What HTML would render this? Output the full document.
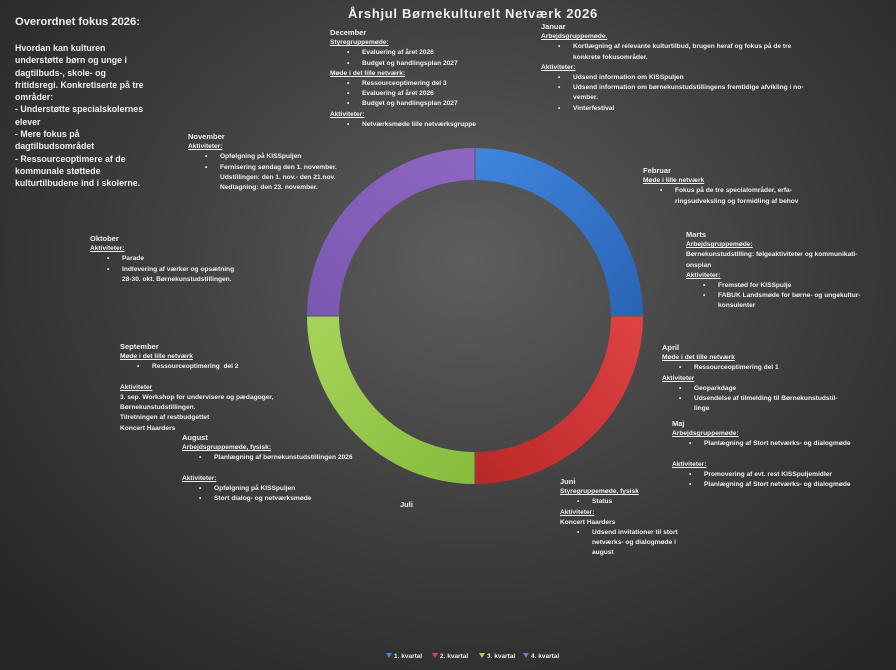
<!DOCTYPE html>
<html><head><meta charset="utf-8"><style>
body{margin:0;width:896px;height:670px;overflow:hidden;background:radial-gradient(ellipse 620px 520px at 470px 260px,#5e5e5e 0%,#424242 45%,#262626 100%);font-family:"Liberation Sans",sans-serif;color:#fff;position:relative}
.b{position:absolute;font-size:6.6px;line-height:10.2px;font-weight:bold;white-space:nowrap;color:#f0f0f0}
.b u{text-decoration:underline}
.h{font-size:7.5px}
.li{padding-left:32px;position:relative}
.li:before{content:"•";position:absolute;left:17px}
</style></head><body>
<svg width="896" height="670" style="position:absolute;left:0;top:0">
<defs>
<linearGradient id="gb" x1="0" y1="0" x2="1" y2="1"><stop offset="0" stop-color="#3f86de"/><stop offset="1" stop-color="#2a63b4"/></linearGradient>
<linearGradient id="gr" x1="1" y1="0" x2="0" y2="1"><stop offset="0" stop-color="#e04343"/><stop offset="1" stop-color="#b82828"/></linearGradient>
<linearGradient id="gg" x1="0" y1="0" x2="1" y2="1"><stop offset="0" stop-color="#a6d45a"/><stop offset="1" stop-color="#86bb3c"/></linearGradient>
<linearGradient id="gp" x1="0" y1="1" x2="1" y2="0"><stop offset="0" stop-color="#7a58b2"/><stop offset="1" stop-color="#8d67c2"/></linearGradient>
</defs>
<g transform="translate(475,316)">
<path d="M0,-168 A168,168 0 0 1 168,0 L136,0 A136,136 0 0 0 0,-136Z" fill="url(#gb)"/>
<path d="M168,0 A168,168 0 0 1 0,168 L0,136 A136,136 0 0 0 136,0Z" fill="url(#gr)"/>
<path d="M0,168 A168,168 0 0 1 -168,0 L-136,0 A136,136 0 0 0 0,136Z" fill="url(#gg)"/>
<path d="M-168,0 A168,168 0 0 1 0,-168 L0,-136 A136,136 0 0 0 -136,0Z" fill="url(#gp)"/>
<g stroke="#555" stroke-width="1"><line x1="0" y1="-168" x2="0" y2="-136"/><line x1="136" y1="0" x2="168" y2="0"/><line x1="0" y1="136" x2="0" y2="168"/><line x1="-168" y1="0" x2="-136" y2="0"/></g>
</g>
<g font-family="Liberation Sans" font-size="6.5" fill="#eee" font-weight="bold">
<polygon points="386,653 392,653 389,658" fill="#3f86de"/><text x="394" y="658">1. kvartal</text>
<polygon points="432,653 438,653 435,658" fill="#e04343"/><text x="440" y="658">2. kvartal</text>
<polygon points="479,653 485,653 482,658" fill="#a6d45a"/><text x="487" y="658">3. kvartal</text>
<polygon points="523,653 529,653 526,658" fill="#8d67c2"/><text x="531" y="658">4. kvartal</text>
</g>
</svg>
<div class="b" style="left:0;width:946px;text-align:center;top:6px;font-size:13px;line-height:16px;letter-spacing:0.7px">Årshjul Børnekulturelt Netværk 2026</div>
<div class="b" style="left:15px;top:15px;font-size:11.2px;line-height:15px">Overordnet fokus 2026:</div>
<div class="b" style="left:15px;top:42px;font-size:8.8px;line-height:12.3px">Hvordan kan kulturen<br>understøtte børn og unge i<br>dagtilbuds-, skole- og<br>fritidsregi. Konkretiserte på tre<br>områder:<br>- Understøtte specialskolernes<br>elever<br>- Mere fokus på<br>dagtilbudsområdet<br>- Ressourceoptimere af de<br>kommunale støttede<br>kulturtilbudene ind i skolerne.</div>
<div class="b" style="left:330px;top:28px"><div class="h">December</div><u>Styregruppemøde:</u><div class="li">Evaluering af året 2026</div><div class="li">Budget og handlingsplan 2027</div><u>Møde i det lille netværk:</u><div class="li">Ressourceoptimering del 3</div><div class="li">Evaluering af året 2026</div><div class="li">Budget og handlingsplan 2027</div><u>Aktiviteter:</u><div class="li">Netværksmøde lille netværksgruppe</div></div>
<div class="b" style="left:541px;top:22px"><div class="h">Januar</div><u>Arbejdsgruppemøde.</u><div class="li">Kortlægning af relevante kulturtilbud, brugen heraf og fokus på de tre<br>konkrete fokusområder.</div><u>Aktiviteter:</u><div class="li">Udsend information om KISSpuljen</div><div class="li">Udsend information om børnekunstudstillingens fremtidige afvikling i no-<br>vember.</div><div class="li">Vinterfestival</div></div>
<div class="b" style="left:643px;top:166px"><div class="h">Februar</div><u>Møde i lille netværk</u><div class="li">Fokus på de tre specialområder, erfa-<br>ringsudveksling og formidling af behov</div></div>
<div class="b" style="left:686px;top:230px"><div class="h">Marts</div><u>Arbejdsgruppemøde:</u><br>Børnekunstudstilling: følgeaktiviteter og kommunikati-<br>onsplan<br><u>Aktiviteter:</u><div class="li">Fremstød for KISSpulje</div><div class="li">FABUK Landsmøde for børne- og ungekultur-<br>konsulenter</div></div>
<div class="b" style="left:662px;top:343px"><div class="h">April</div><u>Møde i det lille netværk</u><div class="li">Ressourceoptimering del 1</div><u>Aktiviteter</u><div class="li">Geoparkdage</div><div class="li">Udsendelse af tilmelding til Børnekunstudstil-<br>linge</div></div>
<div class="b" style="left:672px;top:419px"><div class="h">Maj</div><u>Arbejdsgruppemøde:</u><div class="li">Planlægning af Stort netværks- og dialogmøde</div><br><u>Aktiviteter:</u><div class="li">Promovering af evt. rest KISSpuljemidler</div><div class="li">Planlægning af Stort netværks- og dialogmøde</div></div>
<div class="b" style="left:560px;top:477px"><div class="h">Juni</div><u>Styregruppemøde, fysisk</u><div class="li">Status</div><u>Aktiviteter:</u><br>Koncert Haarders<div class="li">Udsend invitationer til stort<br>netværks- og dialogmøde i<br>august</div></div>
<div class="b h" style="left:400px;top:500px">Juli</div>
<div class="b" style="left:182px;top:433px"><div class="h">August</div><u>Arbejdsgruppemøde, fysisk:</u><div class="li">Planlægning af børnekunstudstillingen 2026</div><br><u>Aktiviteter:</u><div class="li">Opfølgning på KISSpuljen</div><div class="li">Stort dialog- og netværksmøde</div></div>
<div class="b" style="left:120px;top:342px"><div class="h">September</div><u>Møde i det lille netværk</u><div class="li">Ressourceoptimering&nbsp; del 2</div><br><u>Aktiviteter</u><br>3. sep. Workshop for undervisere og pædagoger,<br>Børnekunstudstillingen.<br>Tilretningen af restbudgettet<br>Koncert Haarders</div>
<div class="b" style="left:90px;top:234px"><div class="h">Oktober</div><u>Aktiviteter:</u><div class="li">Parade</div><div class="li">Indlevering af værker og opsætning<br>28-30. okt. Børnekunstudstillingen.</div></div>
<div class="b" style="left:188px;top:132px"><div class="h">November</div><u>Aktiviteter:</u><div class="li">Opfølgning på KISSpuljen</div><div class="li">Fernisering søndag den 1. november.<br>Udstillingen: den 1. nov.- den 21.nov.<br>Nedtagning: den 23. november.</div></div>
</body></html>
